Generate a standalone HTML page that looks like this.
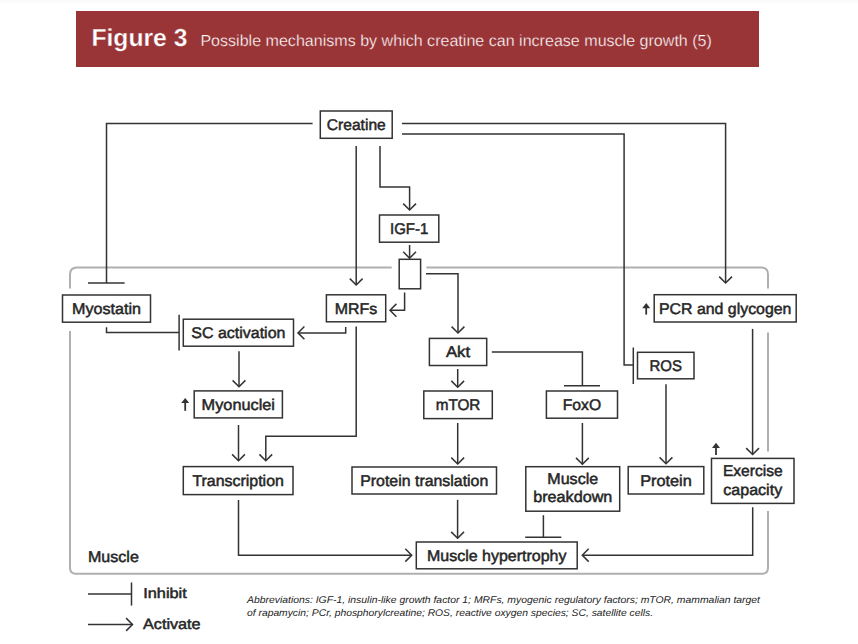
<!DOCTYPE html>
<html><head><meta charset="utf-8">
<style>
html,body{margin:0;padding:0;background:#fff;width:858px;height:644px;overflow:hidden}
svg{display:block}
text{font-family:"Liberation Sans",sans-serif;fill:#333;text-rendering:geometricPrecision}
.b{font-size:15.5px;stroke:#262626;stroke-width:0.5;fill:#262626}
</style></head><body>
<svg width="858" height="644" viewBox="0 0 858 644">
<rect x="0" y="0" width="858" height="1" fill="#f9f9f9"/><rect x="0" y="1" width="858" height="2" fill="#fcfcfc"/>
<rect x="76" y="11" width="683" height="56" fill="#993437"/>
<text x="91.4" y="45.5" textLength="96" lengthAdjust="spacingAndGlyphs" style="font-weight:bold;font-size:24.6px;fill:#fff;stroke:#993437;stroke-width:0.3">Figure 3</text>
<text x="200.4" y="45.5" textLength="511.5" lengthAdjust="spacingAndGlyphs" style="font-size:16.05px;fill:#fff;stroke:#993437;stroke-width:0.3">Possible mechanisms by which creatine can increase muscle growth (5)</text>
<g fill="none" stroke="#b0b0b0" stroke-width="2">
<path d="M70,288.4 V274.5 Q70,267.5 77,267.5 H391.7"/>
<path d="M426.4,267.5 H761 Q768,267.5 768,274.5 V288.4"/>
<path d="M70,331 V567.8 Q70,573.8 76,573.8 H762 Q768,573.8 768,567.8 V511"/>
<path d="M768,332.4 V451.4"/>
</g>
<g fill="none" stroke="#333" stroke-width="1.5">
<path d="M312.6,123.5 H106.5 V283"/>
<path d="M88,283 H124.6"/>
<path d="M402,134.0 H624.1 V365 H633.3"/>
<path d="M633.3,347.5 V384"/>
<path d="M106.5,327.2 V332.6 H179.1"/>
<path d="M179.1,314.7 V350.5"/>
<path d="M491.8,352.1 H582.4 V385.7"/>
<path d="M564,385.7 H600"/>
<path d="M543.4,515.2 V537.3"/>
<path d="M525.2,537.3 H561.3"/>
<path d="M88,594 H131.5"/>
<path d="M131.5,582.5 V605.6"/>
<path d="M356.2,146 V285"/>
<path d="M380,146 V187 H409.6 V210"/>
<path d="M409.6,245 V258.2"/>
<path d="M404.6,292.4 V310.3 H390"/>
<path d="M426,273.8 H458 V333"/>
<path d="M402,123.5 H725.6 V283"/>
<path d="M345.7,327 V332.9 H298"/>
<path d="M239,351.2 V386.8"/>
<path d="M238.5,425 V460.8"/>
<path d="M356.2,326.4 V436.3 H265.8 V460.8"/>
<path d="M457.7,369 V387.3"/>
<path d="M457.7,423 V464"/>
<path d="M582.4,423 V464.3"/>
<path d="M666,384.3 V463.8"/>
<path d="M752.6,328.9 V454.5"/>
<path d="M457.6,499.8 V538.3"/>
<path d="M238.5,500 V555.2 H411.7"/>
<path d="M752.7,507.3 V555.2 H582.3"/>
<path d="M88,624.5 H132.5"/>
<path d="M349.80,278.60 L356.20,285.00 L362.60,278.60"/>
<path d="M403.20,203.60 L409.60,210.00 L416.00,203.60"/>
<path d="M403.20,251.80 L409.60,258.20 L416.00,251.80"/>
<path d="M396.40,303.90 L390.00,310.30 L396.40,316.70"/>
<path d="M451.60,326.60 L458.00,333.00 L464.40,326.60"/>
<path d="M719.20,276.60 L725.60,283.00 L732.00,276.60"/>
<path d="M304.40,326.50 L298.00,332.90 L304.40,339.30"/>
<path d="M232.60,380.40 L239.00,386.80 L245.40,380.40"/>
<path d="M232.10,454.40 L238.50,460.80 L244.90,454.40"/>
<path d="M259.40,454.40 L265.80,460.80 L272.20,454.40"/>
<path d="M451.30,380.90 L457.70,387.30 L464.10,380.90"/>
<path d="M451.30,457.60 L457.70,464.00 L464.10,457.60"/>
<path d="M576.00,457.90 L582.40,464.30 L588.80,457.90"/>
<path d="M659.60,457.40 L666.00,463.80 L672.40,457.40"/>
<path d="M746.20,448.10 L752.60,454.50 L759.00,448.10"/>
<path d="M451.20,531.90 L457.60,538.30 L464.00,531.90"/>
<path d="M405.30,561.60 L411.70,555.20 L405.30,548.80"/>
<path d="M588.70,548.80 L582.30,555.20 L588.70,561.60"/>
<path d="M126.10,630.90 L132.50,624.50 L126.10,618.10"/>
</g>
<g fill="#fff" stroke="#333" stroke-width="1.5">
<rect x="320.30" y="111.00" width="71.90" height="27.30"/>
<rect x="379.50" y="215.00" width="59.30" height="27.20"/>
<rect x="399.20" y="259.30" width="21.40" height="29.50"/>
<rect x="62.50" y="295.00" width="88.00" height="27.20"/>
<rect x="326.40" y="294.80" width="59.30" height="27.00"/>
<rect x="183.30" y="319.20" width="110.20" height="27.00"/>
<rect x="194.20" y="390.90" width="88.20" height="27.00"/>
<rect x="183.30" y="466.60" width="109.70" height="28.00"/>
<rect x="429.40" y="338.40" width="57.30" height="27.10"/>
<rect x="423.80" y="391.00" width="68.50" height="27.60"/>
<rect x="352.00" y="467.00" width="144.50" height="27.00"/>
<rect x="546.40" y="391.00" width="71.10" height="27.20"/>
<rect x="525.80" y="466.70" width="93.90" height="44.50"/>
<rect x="654.20" y="294.70" width="142.00" height="27.30"/>
<rect x="637.50" y="352.30" width="56.50" height="26.50"/>
<rect x="628.20" y="466.60" width="75.60" height="27.40"/>
<rect x="711.50" y="458.40" width="82.50" height="45.00"/>
<rect x="416.30" y="542.00" width="160.90" height="26.80"/>
</g>
<path d="M185.2,401.9 V410.8" stroke="#333" stroke-width="1.8" fill="none"/><path d="M181.2,403.09999999999997 L185.2,397.9 L189.2,403.09999999999997 Z" fill="#333"/>
<path d="M646.2,307 V314.6" stroke="#333" stroke-width="1.8" fill="none"/><path d="M642.2,308.2 L646.2,303 L650.2,308.2 Z" fill="#333"/>
<path d="M716,446.8 V455" stroke="#333" stroke-width="1.8" fill="none"/><path d="M712,448.0 L716,442.8 L720,448.0 Z" fill="#333"/>
<text class="b" x="356.25" y="130.10" text-anchor="middle" textLength="59.00" lengthAdjust="spacingAndGlyphs">Creatine</text>
<text class="b" x="409.15" y="234.05" text-anchor="middle" textLength="38.33" lengthAdjust="spacingAndGlyphs">IGF-1</text>
<text class="b" x="106.50" y="314.05" text-anchor="middle" textLength="68.88" lengthAdjust="spacingAndGlyphs">Myostatin</text>
<text class="b" x="356.05" y="313.75" text-anchor="middle" textLength="42.47" lengthAdjust="spacingAndGlyphs">MRFs</text>
<text class="b" x="238.40" y="338.15" text-anchor="middle" textLength="94.07" lengthAdjust="spacingAndGlyphs">SC activation</text>
<text class="b" x="238.30" y="409.85" text-anchor="middle" textLength="73.34" lengthAdjust="spacingAndGlyphs">Myonuclei</text>
<text class="b" x="238.15" y="486.05" text-anchor="middle" textLength="91.41" lengthAdjust="spacingAndGlyphs">Transcription</text>
<text class="b" x="458.05" y="357.40" text-anchor="middle" textLength="24.17" lengthAdjust="spacingAndGlyphs">Akt</text>
<text class="b" x="458.05" y="410.25" text-anchor="middle" textLength="44.73" lengthAdjust="spacingAndGlyphs">mTOR</text>
<text class="b" x="424.25" y="485.95" text-anchor="middle" textLength="128.14" lengthAdjust="spacingAndGlyphs">Protein translation</text>
<text class="b" x="581.95" y="410.05" text-anchor="middle" textLength="38.33" lengthAdjust="spacingAndGlyphs">FoxO</text>
<text class="b" x="572.75" y="484.00" text-anchor="middle" textLength="50.85" lengthAdjust="spacingAndGlyphs">Muscle</text>
<text class="b" x="572.75" y="502.00" text-anchor="middle" textLength="79.18" lengthAdjust="spacingAndGlyphs">breakdown</text>
<text class="b" x="725.20" y="313.80" text-anchor="middle" textLength="132.52" lengthAdjust="spacingAndGlyphs">PCR and glycogen</text>
<text class="b" x="665.75" y="371.00" text-anchor="middle" textLength="32.50" lengthAdjust="spacingAndGlyphs">ROS</text>
<text class="b" x="666.00" y="485.75" text-anchor="middle" textLength="51.67" lengthAdjust="spacingAndGlyphs">Protein</text>
<text class="b" x="752.75" y="475.95" text-anchor="middle" textLength="59.68" lengthAdjust="spacingAndGlyphs">Exercise</text>
<text class="b" x="752.75" y="494.95" text-anchor="middle" textLength="58.84" lengthAdjust="spacingAndGlyphs">capacity</text>
<text class="b" x="496.75" y="560.85" text-anchor="middle" textLength="139.54" lengthAdjust="spacingAndGlyphs">Muscle hypertrophy</text>
<text class="b" x="88.00" y="561.50" textLength="50.85" lengthAdjust="spacingAndGlyphs">Muscle</text>
<text class="b" x="143.2" y="598" textLength="43.6" lengthAdjust="spacingAndGlyphs" style="font-size:14.3px">Inhibit</text>
<text class="b" x="143" y="628.8" textLength="57.6" lengthAdjust="spacingAndGlyphs" style="font-size:14.8px">Activate</text>
<text x="247" y="602.6" textLength="513" lengthAdjust="spacingAndGlyphs" style="font-style:italic;font-size:9.8px;fill:#222">Abbreviations: IGF-1, insulin-like growth factor 1; MRFs, myogenic regulatory factors; mTOR, mammalian target</text>
<text x="247" y="615.8" textLength="406" lengthAdjust="spacingAndGlyphs" style="font-style:italic;font-size:9.8px;fill:#222">of rapamycin; PCr, phosphorylcreatine; ROS, reactive oxygen species; SC, satellite cells.</text>
</svg>
</body></html>
